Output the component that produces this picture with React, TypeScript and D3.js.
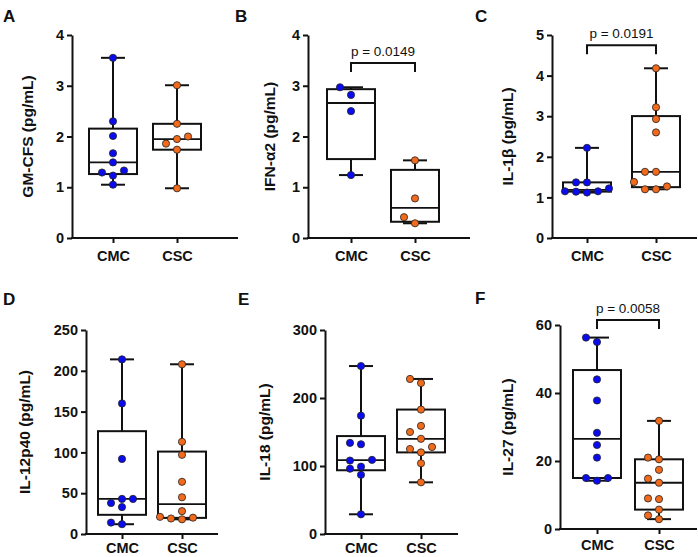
import { useEffect, useRef } from 'react';
import * as d3 from 'd3';

// values (pg/mL)
const groups = ['CMC', 'CSC'];
const panelLetters = ['A', 'B', 'C', 'D', 'E', 'F'];
const yTitles = ['GM-CFS (pg/mL)', 'IFN-α2 (pg/mL)', 'IL-1β (pg/mL)', 'IL-12p40 (pg/mL)', 'IL-18 (pg/mL)', 'IL-27 (pg/mL)'];
const yTicks = [
  [0, 1, 2, 3, 4],
  [0, 1, 2, 3, 4],
  [0, 1, 2, 3, 4, 5],
  [0, 50, 100, 150, 200, 250],
  [0, 100, 200, 300],
  [0, 20, 40, 60],
];
const cmcValues = [
  [3.55, 2.3, 2.01, 1.67, 1.49, 1.33, 1.29, 1.23, 1.05],
  [2.97, 2.82, 2.5, 1.24],
  [2.22, 1.37, 1.37, 1.22, 1.15, 1.15, 1.14, 1.12],
  [214, 160, 92, 43, 43, 38, 33, 14, 12],
  [247, 174, 134, 132, 109, 108, 99, 96, 87, 29],
  [56.3, 55, 44, 37.8, 28.3, 24.7, 21, 15, 15, 14.2],
];
const cscValues = [
  [3.01, 2.25, 2.0, 1.95, 1.86, 1.74, 0.98],
  [1.53, 0.78, 0.41, 0.29],
  [4.18, 3.22, 2.93, 2.6, 1.63, 1.63, 1.38, 1.27, 1.2, 1.2],
  [208, 113, 97, 64, 45, 28, 21, 20, 19, 18],
  [228, 222, 183, 159, 150, 140, 128, 125, 120, 104, 76],
  [31.8, 21, 20.5, 17.4, 14.8, 13.6, 9, 8.8, 5.7, 4, 2.9],
];
const pLabels = [null, 'p = 0.0149', 'p = 0.0191', null, null, 'p = 0.0058'];
const bracketLevels = [null, 3.45, 4.75, null, null, 61.5];

// panel geometry in page pixels
const layout = [
  { left: 72, top: 35, bottom: 238, right: 238, c1: 113, c2: 177, titleX: 33, letterX: 3, letterY: 22, pad: 8 },
  { left: 308, top: 35, bottom: 238, right: 470, c1: 351, c2: 415, titleX: 275, letterX: 235, letterY: 22, pad: 8 },
  { left: 552, top: 35, bottom: 238, right: 697, c1: 587, c2: 656, titleX: 513, letterX: 475, letterY: 22, pad: 8 },
  { left: 86, top: 330, bottom: 534, right: 218, c1: 122, c2: 182, titleX: 30, letterX: 3, letterY: 305, pad: 4 },
  { left: 325, top: 330, bottom: 534, right: 458, c1: 361, c2: 421, titleX: 270, letterX: 238, letterY: 305, pad: 4 },
  { left: 560, top: 325, bottom: 529, right: 697, c1: 597, c2: 659, titleX: 513, letterX: 475, letterY: 304, pad: 6 },
];

const colors = ['#0b0bf0', '#f26a1c'];
const font = '"Liberation Sans", Arial, sans-serif';

// GraphPad style quartiles, (n+1)p
function quant(sorted: number[], p: number) {
  const n = sorted.length;
  const pos = p * (n + 1);
  if (pos <= 1) return sorted[0];
  if (pos >= n) return sorted[n - 1];
  const i = Math.floor(pos);
  return sorted[i - 1] + (pos - i) * (sorted[i] - sorted[i - 1]);
}

// simple beeswarm: horizontal offsets so dots don't overlap
function swarm(ys: number[], step: number, minDist: number) {
  const idx = ys.map((_, i) => i).sort((a, b) => ys[b] - ys[a]);
  const placed: { x: number; y: number }[] = [];
  const out = new Array(ys.length).fill(0);
  const cands = [0, -step, step, -2 * step, 2 * step, -3 * step, 3 * step];
  for (const i of idx) {
    const y = ys[i];
    const x = cands.find((c) => placed.every((p) => Math.hypot(p.x - c, p.y - y) >= minDist)) ?? 0;
    placed.push({ x, y });
    out[i] = x;
  }
  return out;
}

const App = () => {
  const ref = useRef<SVGSVGElement>(null);

  useEffect(() => {
    const svg = d3.select(ref.current);
    svg.selectAll('*').remove();

    layout.forEach((L, k) => {
      const g = svg.append('g');
      const ticks = yTicks[k];
      const y = d3.scaleLinear().domain([0, ticks[ticks.length - 1]]).range([L.bottom, L.top]);
      const x = d3.scalePoint<string>().domain(groups).range([L.c1, L.c2]);

      // y axis
      const ya = g.append('g')
        .attr('transform', `translate(${L.left},0)`)
        .call(d3.axisLeft(y).tickValues(ticks).tickFormat(d3.format('d')).tickSize(5).tickSizeOuter(0).tickPadding(3));
      ya.select('.domain').attr('stroke', '#111').attr('stroke-width', 2);
      ya.selectAll('.tick line').attr('stroke', '#111').attr('stroke-width', 2);
      ya.selectAll('.tick text')
        .attr('font-family', font).attr('font-size', 14.5).attr('font-weight', 'bold').attr('fill', '#111');

      // x axis
      const xa = g.append('g')
        .attr('transform', `translate(0,${L.bottom})`)
        .call(d3.axisBottom(x).tickSize(5).tickSizeOuter(0).tickPadding(L.pad));
      xa.select('.domain').remove();
      xa.selectAll('.tick line').attr('stroke', '#111').attr('stroke-width', 2);
      xa.selectAll('.tick text')
        .attr('font-family', font).attr('font-size', 14.5).attr('font-weight', 'bold').attr('fill', '#111');
      g.append('line')
        .attr('x1', L.left - 1).attr('x2', L.right)
        .attr('y1', L.bottom).attr('y2', L.bottom)
        .attr('stroke', '#111').attr('stroke-width', 2);

      // titles
      g.append('text')
        .attr('transform', `translate(${L.titleX},${(L.top + L.bottom) / 2}) rotate(-90)`)
        .attr('text-anchor', 'middle')
        .attr('font-family', font).attr('font-size', 15.5).attr('font-weight', 'bold').attr('fill', '#111')
        .text(yTitles[k]);
      g.append('text')
        .attr('x', L.letterX).attr('y', L.letterY)
        .attr('font-family', font).attr('font-size', 17).attr('font-weight', 'bold').attr('fill', '#111')
        .text(panelLetters[k]);

      // boxes
      [cmcValues[k], cscValues[k]].forEach((vals, gi) => {
        const cx = x(groups[gi]) as number;
        const s = [...vals].sort((a, b) => a - b);
        const mn = s[0], mx = s[s.length - 1];
        const q1 = quant(s, 0.25), med = quant(s, 0.5), q3 = quant(s, 0.75);
        const bw = 48, cw = 24;
        const line = (x1: number, y1: number, x2: number, y2: number, w = 2) =>
          g.append('line').attr('x1', x1).attr('y1', y1).attr('x2', x2).attr('y2', y2)
            .attr('stroke', '#111').attr('stroke-width', w);
        line(cx, y(mn), cx, y(q1));
        line(cx, y(q3), cx, y(mx));
        line(cx - cw / 2, y(mn), cx + cw / 2, y(mn));
        line(cx - cw / 2, y(mx), cx + cw / 2, y(mx));
        g.append('rect')
          .attr('x', cx - bw / 2).attr('y', y(q3))
          .attr('width', bw).attr('height', y(q1) - y(q3))
          .attr('fill', 'white').attr('stroke', '#111').attr('stroke-width', 2);
        line(cx - bw / 2, y(med), cx + bw / 2, y(med), 1.8);

        const ys = vals.map((v) => y(v));
        const offs = swarm(ys, 11, 8);
        g.selectAll(null)
          .data(vals)
          .enter()
          .append('circle')
          .attr('cx', (_, i) => cx + offs[i])
          .attr('cy', (d) => y(d))
          .attr('r', 3.6)
          .attr('fill', colors[gi])
          .attr('stroke', '#222')
          .attr('stroke-width', 0.8);
      });

      // significance bracket
      const lvl = bracketLevels[k];
      if (lvl !== null) {
        const by = y(lvl);
        g.append('path')
          .attr('d', `M${L.c1},${by + 9}V${by}H${L.c2}V${by + 9}`)
          .attr('fill', 'none').attr('stroke', '#111').attr('stroke-width', 2);
        g.append('text')
          .attr('x', (L.c1 + L.c2) / 2).attr('y', by - 7)
          .attr('text-anchor', 'middle')
          .attr('font-family', font).attr('font-size', 13.5).attr('fill', '#111')
          .text(pLabels[k] as string);
      }
    });
  }, []);

  return (
    <svg ref={ref} width={698} height={557}
      style={{ position: 'absolute', left: 0, top: 0, background: 'white' }} />
  );
};

export default App;
